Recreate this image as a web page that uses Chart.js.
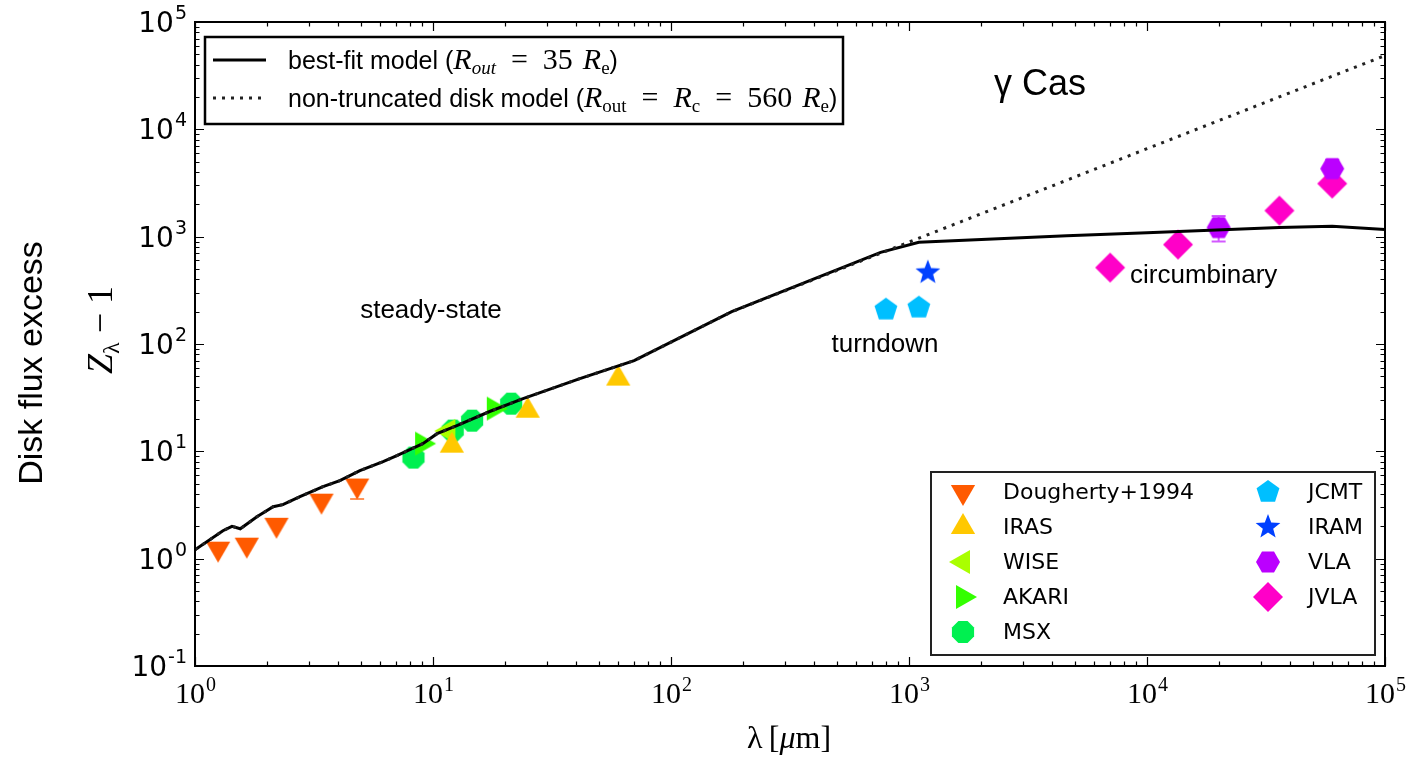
<!DOCTYPE html>
<html>
<head>
<meta charset="utf-8">
<script src="https://cdn.jsdelivr.net/npm/chart.js@4.4.1/dist/chart.umd.min.js"></script>
<style>
  html, body { margin: 0; padding: 0; background: #fff; }
  canvas { display: block; }
</style>
</head>
<body>
<canvas id="sed" width="1413" height="757"></canvas>
<script>
// ---- model curves (wavelength in micron, Z-1) ----
const modelX = [1, 1.31, 1.43, 1.55, 1.82, 2.13, 2.34, 2.76, 3.45, 4.06, 4.93, 6.17, 7.05, 9.06, 10.4, 12.6, 17.3, 23.9, 41.4, 70, 180, 760, 1100, 4600, 10000, 36000, 60000, 100000];
const modelY = [1.21, 1.82, 2.0, 1.9, 2.46, 3.05, 3.19, 3.78, 4.69, 5.33, 6.61, 8.02, 9.11, 11.8, 14.6, 17.4, 23.5, 31.0, 47.5, 70, 200, 714, 888, 1022, 1088, 1218, 1250, 1165];
const diskX = [1, 1.31, 1.43, 1.55, 1.82, 2.13, 2.34, 2.76, 3.45, 4.06, 4.93, 6.17, 7.05, 9.06, 10.4, 12.6, 17.3, 23.9, 41.4, 70, 180, 1000, 10000, 100000];
const diskY = [1.21, 1.82, 2.0, 1.9, 2.46, 3.05, 3.19, 3.78, 4.69, 5.33, 6.61, 8.02, 9.11, 11.8, 14.6, 17.4, 23.5, 31.0, 47.5, 70, 200, 890, 6600, 48700];

// ---- observations ----
const doughertyX = [1.25, 1.65, 2.2, 3.4, 4.8];
const doughertyY = [1.24, 1.35, 2.07, 3.47, 4.8];
const doughertyLo = [null, null, null, null, 3.6];
const irasX = [12, 25, 60];
const irasY = [11.3, 23.9, 47.6];
const wiseX = [11.6];
const wiseY = [15.5];
const akariX = [9, 18];
const akariY = [11.8, 25.0];
const msxX = [8.28, 12.1, 14.6, 21.3];
const msxY = [8.74, 15.6, 19.3, 27.8];
const jcmtX = [800, 1100];
const jcmtY = [209, 218];
const iramX = [1200];
const iramY = [463];
const vlaX = [20000, 60000];
const vlaY = [1216, 4300];
const vlaLo = [900, 3500];
const vlaHi = [1560, 5200];
const jvlaX = [7000, 13500, 36000, 60000];
const jvlaY = [515, 844, 1750, 3124];

const SANS = '"Liberation Sans", Arial, sans-serif';
const DEJA = '"DejaVu Sans", sans-serif';
const SERIF = '"Liberation Serif", "DejaVu Serif", serif';

function pts(xs, ys) {
    return xs.map((x, i) => ({ x: x, y: ys[i] }));
}

function markerPath(ctx, shape, cx, cy, r) {
    ctx.beginPath();
    if (shape === 'star') {
        for (let i = 0; i < 10; i++) {
            const rr = i % 2 === 0 ? r : r * 0.42;
            const a = -Math.PI / 2 + i * Math.PI / 5;
            const px = cx + rr * Math.cos(a), py = cy + rr * Math.sin(a);
            if (i === 0) ctx.moveTo(px, py); else ctx.lineTo(px, py);
        }
        ctx.closePath();
        return;
    }
    const def = {
        'tri-down': [3, Math.PI / 2],
        'tri-up': [3, -Math.PI / 2],
        'tri-left': [3, Math.PI],
        'tri-right': [3, 0],
        'oct': [8, Math.PI / 8],
        'pent': [5, -Math.PI / 2],
        'hex': [6, 0],
        'diamond': [4, 0]
    }[shape];
    const n = def[0], a0 = def[1];
    for (let i = 0; i < n; i++) {
        const a = a0 + i * 2 * Math.PI / n;
        const px = cx + r * Math.cos(a), py = cy + r * Math.sin(a);
        if (i === 0) ctx.moveTo(px, py); else ctx.lineTo(px, py);
    }
    ctx.closePath();
}

function markerCanvas(shape, color, r) {
    const c = document.createElement('canvas');
    const s = Math.ceil(2 * r + 4);
    c.width = s; c.height = s;
    const ctx = c.getContext('2d');
    markerPath(ctx, shape, s / 2, s / 2, r);
    ctx.fillStyle = color;
    ctx.fill();
    return c;
}

const series = [
    { label: 'Dougherty+1994', xs: doughertyX, ys: doughertyY, lo: doughertyLo, shape: 'tri-down', color: '#ff5a00', r: 14 },
    { label: 'IRAS', xs: irasX, ys: irasY, shape: 'tri-up', color: '#ffc800', r: 14 },
    { label: 'WISE', xs: wiseX, ys: wiseY, shape: 'tri-left', color: '#aaff00', r: 14 },
    { label: 'AKARI', xs: akariX, ys: akariY, shape: 'tri-right', color: '#33ff00', r: 14 },
    { label: 'MSX', xs: msxX, ys: msxY, shape: 'oct', color: '#00f050', r: 12 },
    { label: 'JCMT', xs: jcmtX, ys: jcmtY, shape: 'pent', color: '#00bfff', r: 12 },
    { label: 'IRAM', xs: iramX, ys: iramY, shape: 'star', color: '#0040ff', r: 13 },
    { label: 'VLA', xs: vlaX, ys: vlaY, lo: vlaLo, hi: vlaHi, shape: 'hex', color: '#bb00ff', r: 12 },
    { label: 'JVLA', xs: jvlaX, ys: jvlaY, shape: 'diamond', color: '#ff00c8', r: 15 }
];

const datasets = [
    { label: 'non-truncated', data: pts(diskX, diskY), showLine: true, borderColor: '#222', borderWidth: 3, borderDash: [3, 6], pointRadius: 0, fill: false },
    { label: 'best-fit', data: pts(modelX, modelY), showLine: true, borderColor: '#000', borderWidth: 3, pointRadius: 0, fill: false }
];
series.forEach(s => {
    s.img = markerCanvas(s.shape, s.color, s.r);
    datasets.push({ label: s.label, data: pts(s.xs, s.ys), showLine: false, pointStyle: s.img, pointRadius: s.r, backgroundColor: s.color, borderColor: s.color });
});

function drawRuns(ctx, runs, x, y) {
    runs.forEach(r => {
        ctx.font = r.f;
        ctx.fillText(r.t, x, y + (r.dy || 0));
        x += ctx.measureText(r.t).width;
    });
    return x;
}

function runsWidth(ctx, runs) {
    let w = 0;
    runs.forEach(r => { ctx.font = r.f; w += ctx.measureText(r.t).width; });
    return w;
}

function powLabel(ctx, exp, x, y, align, baseFont, supFont, raise) {
    ctx.textBaseline = 'alphabetic';
    ctx.textAlign = 'left';
    ctx.font = baseFont;
    const w1 = ctx.measureText('10').width;
    ctx.font = supFont;
    const w2 = ctx.measureText(exp).width;
    let x0 = align === 'right' ? x - w1 - w2 : x - (w1 + w2) / 2;
    ctx.font = baseFont;
    ctx.fillText('10', x0, y);
    ctx.font = supFont;
    ctx.fillText(exp, x0 + w1 + 1, y - raise);
}

const sedPlugin = {
    id: 'sedPlugin',
    beforeDraw(chart) {
        const ctx = chart.ctx;
        ctx.save();
        ctx.fillStyle = '#fff';
        ctx.fillRect(0, 0, chart.width, chart.height);
        ctx.restore();
    },
    beforeDatasetsDraw(chart) {
        const ctx = chart.ctx, xs = chart.scales.x, ys = chart.scales.y;
        ctx.save();
        ctx.lineWidth = 2;
        series.forEach(s => {
            if (!s.lo && !s.hi) return;
            ctx.strokeStyle = s.color;
            ctx.globalAlpha = 0.65;
            s.xs.forEach((xv, i) => {
                const lo = s.lo ? s.lo[i] : null, hi = s.hi ? s.hi[i] : null;
                if (lo == null && hi == null) return;
                const px = xs.getPixelForValue(xv);
                const y0 = ys.getPixelForValue(s.ys[i]);
                const yl = lo != null ? ys.getPixelForValue(lo) : y0;
                const yh = hi != null ? ys.getPixelForValue(hi) : y0;
                ctx.beginPath();
                ctx.moveTo(px, yl); ctx.lineTo(px, yh);
                if (lo != null) { ctx.moveTo(px - 7, yl); ctx.lineTo(px + 7, yl); }
                if (hi != null) { ctx.moveTo(px - 7, yh); ctx.lineTo(px + 7, yh); }
                ctx.stroke();
            });
        });
        ctx.restore();
    },
    afterDraw(chart) {
        const ctx = chart.ctx, a = chart.chartArea;
        const xs = chart.scales.x, ys = chart.scales.y;
        ctx.save();
        ctx.strokeStyle = '#000';
        ctx.fillStyle = '#000';

        // ticks (inward, all sides)
        ctx.lineWidth = 1.2;
        ctx.beginPath();
        for (let e = 0; e <= 5; e++) {
            for (let m = 1; m <= 9; m++) {
                const v = m * Math.pow(10, e);
                if (v > 1e5) break;
                const px = Math.round(xs.getPixelForValue(v)) + 0.5;
                const len = m === 1 ? 9 : 4.5;
                ctx.moveTo(px, a.bottom); ctx.lineTo(px, a.bottom - len);
                ctx.moveTo(px, a.top); ctx.lineTo(px, a.top + len);
            }
        }
        for (let e = -1; e <= 5; e++) {
            for (let m = 1; m <= 9; m++) {
                const v = m * Math.pow(10, e);
                if (v > 1e5) break;
                const py = Math.round(ys.getPixelForValue(v)) + 0.5;
                const len = m === 1 ? 9 : 4.5;
                ctx.moveTo(a.left, py); ctx.lineTo(a.left + len, py);
                ctx.moveTo(a.right, py); ctx.lineTo(a.right - len, py);
            }
        }
        ctx.stroke();

        // frame
        ctx.lineWidth = 2;
        ctx.strokeRect(a.left, a.top, a.right - a.left, a.bottom - a.top);

        // tick labels
        for (let e = -1; e <= 5; e++) {
            const py = ys.getPixelForValue(Math.pow(10, e));
            powLabel(ctx, e < 0 ? '-1' : String(e), a.left - 9, py + 10, 'right', '28px ' + DEJA, '19px ' + DEJA, 13);
        }
        for (let e = 0; e <= 5; e++) {
            const px = xs.getPixelForValue(Math.pow(10, e));
            powLabel(ctx, String(e), px, a.bottom + 37, 'center', '30px ' + SERIF, '20px ' + SERIF, 12);
        }

        // axis titles
        ctx.textAlign = 'left';
        ctx.textBaseline = 'alphabetic';
        const xt = [{ t: '\u03bb\u2009', f: '32px ' + SERIF }, { t: '[', f: '32px ' + SERIF }, { t: '\u03bc', f: 'italic 32px ' + SERIF }, { t: 'm', f: '32px ' + SERIF }, { t: ']', f: '32px ' + SERIF }];
        drawRuns(ctx, xt, 789 - runsWidth(ctx, xt) / 2, 748);

        ctx.save();
        ctx.translate(33, 363);
        ctx.rotate(-Math.PI / 2);
        ctx.textAlign = 'center';
        ctx.textBaseline = 'middle';
        ctx.font = '34px ' + SANS;
        ctx.fillText('Disk flux excess', 0, 0);
        ctx.restore();

        ctx.save();
        ctx.translate(112, 330);
        ctx.rotate(-Math.PI / 2);
        ctx.textAlign = 'left';
        const zr = [{ t: 'Z', f: 'italic 36px ' + SERIF }, { t: '\u03bb', f: '24px ' + SERIF, dy: 7 }, { t: ' \u2212 1', f: '36px ' + SERIF }];
        drawRuns(ctx, zr, -runsWidth(ctx, zr) / 2, 0);
        ctx.restore();

        // annotations
        ctx.textAlign = 'center';
        ctx.textBaseline = 'middle';
        ctx.font = '36px ' + SANS;
        ctx.fillText('\u03b3 Cas', 1040, 85);
        ctx.font = '26px ' + SANS;
        ctx.fillText('steady-state', 431, 311);
        ctx.fillText('turndown', 885, 345);
        ctx.textAlign = 'left';
        ctx.fillText('circumbinary', 1130, 276);

        // model legend
        ctx.fillStyle = '#fff';
        ctx.fillRect(205, 37, 638, 87);
        ctx.lineWidth = 2.5;
        ctx.strokeStyle = '#000';
        ctx.strokeRect(205, 37, 638, 87);
        ctx.lineWidth = 3;
        ctx.beginPath(); ctx.moveTo(213, 60); ctx.lineTo(266, 60); ctx.stroke();
        ctx.setLineDash([3, 6]);
        ctx.strokeStyle = '#222';
        ctx.beginPath(); ctx.moveTo(213, 98); ctx.lineTo(266, 98); ctx.stroke();
        ctx.setLineDash([]);
        ctx.fillStyle = '#000';
        ctx.textAlign = 'left';
        ctx.textBaseline = 'alphabetic';
        const S22 = '25px ' + SANS, I24 = 'italic 30px ' + SERIF, R24 = '30px ' + SERIF, SUBI = 'italic 19px ' + SERIF, SUB = '19px ' + SERIF;
        const EQ = '\u2002=\u2002';
        drawRuns(ctx, [
            { t: 'best-fit model (', f: S22 }, { t: 'R', f: I24 }, { t: 'out', f: SUBI, dy: 5 },
            { t: EQ + '35\u2004', f: R24 }, { t: 'R', f: I24 }, { t: 'e', f: SUB, dy: 5 }, { t: ')', f: S22 }
        ], 288, 69);
        drawRuns(ctx, [
            { t: 'non-truncated disk model (', f: S22 }, { t: 'R', f: I24 }, { t: 'out', f: SUB, dy: 5 },
            { t: EQ, f: R24 }, { t: 'R', f: I24 }, { t: 'c', f: SUB, dy: 5 },
            { t: EQ + '560\u2004', f: R24 }, { t: 'R', f: I24 }, { t: 'e', f: SUB, dy: 5 }, { t: ')', f: S22 }
        ], 288, 107);

        // data legend
        ctx.fillStyle = '#fff';
        ctx.fillRect(931, 472, 444, 183);
        ctx.lineWidth = 2;
        ctx.strokeRect(931, 472, 444, 183);
        const rows = [492, 527, 562, 597, 632];
        ctx.font = '22px ' + DEJA;
        ctx.textBaseline = 'middle';
        series.forEach((s, i) => {
            const col = i < 5 ? 0 : 1;
            const row = i < 5 ? i : i - 5;
            const mx = col === 0 ? 963 : 1268;
            const tx = col === 0 ? 1003 : 1308;
            const my = rows[row];
            markerPath(ctx, s.shape, mx, my, s.r);
            ctx.fillStyle = s.color;
            ctx.fill();
            ctx.fillStyle = '#000';
            ctx.fillText(s.label, tx, my + 1);
        });
        ctx.restore();
    }
};

new Chart(document.getElementById('sed').getContext('2d'), {
    type: 'scatter',
    data: { datasets: datasets },
    options: {
        responsive: false,
        animation: false,
        events: [],
        devicePixelRatio: 1,
        layout: { padding: { left: 195, top: 22, right: 28, bottom: 91 } },
        plugins: { legend: { display: false }, tooltip: { enabled: false } },
        scales: {
            x: { type: 'logarithmic', min: 1, max: 100000, display: false },
            y: { type: 'logarithmic', min: 0.1, max: 100000, display: false }
        }
    },
    plugins: [sedPlugin]
});
</script>
</body>
</html>
